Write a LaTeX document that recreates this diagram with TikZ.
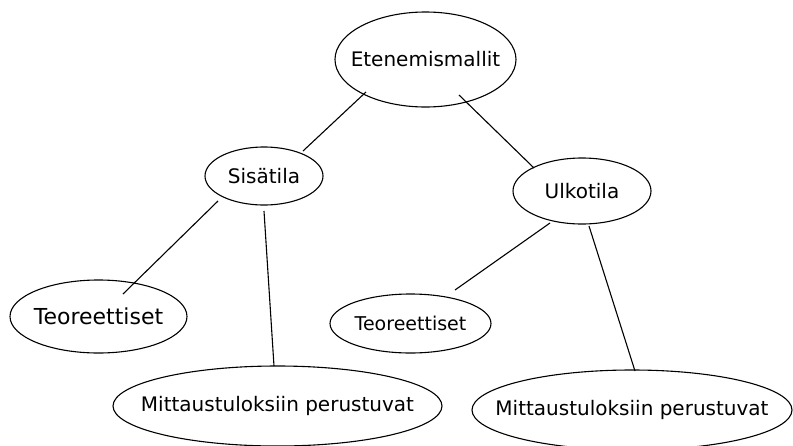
\documentclass[tikz,border=0pt]{standalone}
\usepackage{fontspec}
\setmainfont{DejaVu Sans}
\usetikzlibrary{
	calc,
	shapes.geometric
}

\begin{document}
\begin{tikzpicture}[
			x=1pt,
			y=-1pt,
			oval/.style={
				ellipse,
				draw,
				line width=1.1pt,
				inner sep=0pt,
				font=\fontsize{20}{24}\selectfont
			},
			link/.style={
				line width=1.1pt
			}
			]
			
			\clip (0,0) rectangle (793,445);
			
			\node[oval, minimum width=181, minimum height=95] (ete) at (425.5,59.5) {\makebox[0pt]{Etenemismallit}};
			
			\node[oval, minimum width=118, minimum height=58] (sis) at (264,176) {\makebox[0pt]{Sisätila}};
			
			\node[oval, minimum width=138, minimum height=66] (ulk) at (582,191) {\makebox[0pt]{Ulkotila}};
			
			\node[oval, minimum width=177, minimum height=73,
				font=\fontsize{22}{26}\selectfont] (teosis) at (98.5,316.5) {\makebox[0pt]{Teoreettiset}};
			
			\node[oval, minimum width=329, minimum height=80] (mitsis) at (277.5,406) {\makebox[0pt]{Mittaustuloksiin perustuvat}};
			
			\node[oval, minimum width=161, minimum height=59,
				font=\fontsize{19}{23}\selectfont] (teoulk) at (410.5,323.5) {\makebox[0pt]{Teoreettiset}};
			
			\node[oval, minimum width=320, minimum height=80] (mitulk) at (632,410) {\makebox[0pt]{Mittaustuloksiin perustuvat}};
			
			\draw[link] ($(ete)+(-59.5,32.5)$) -- ($(sis)+(39,-25)$);
			\draw[link] ($(ete)+(33.5,35.5)$) -- ($(ulk)+(-48,-23)$);
			\draw[link] ($(sis)+(-46,25)$) -- ($(teosis)+(24.5,-22.5)$);
			\draw[link] ($(sis)+(0,35)$) -- ($(mitsis)+(-3.5,-40)$);
			\draw[link] ($(ulk)+(-32,32)$) -- ($(teoulk)+(44.5,-33.5)$);
			\draw[link] ($(ulk)+(7,35)$) -- ($(mitulk)+(3,-39)$);
			
		\end{tikzpicture}
\end{document}
